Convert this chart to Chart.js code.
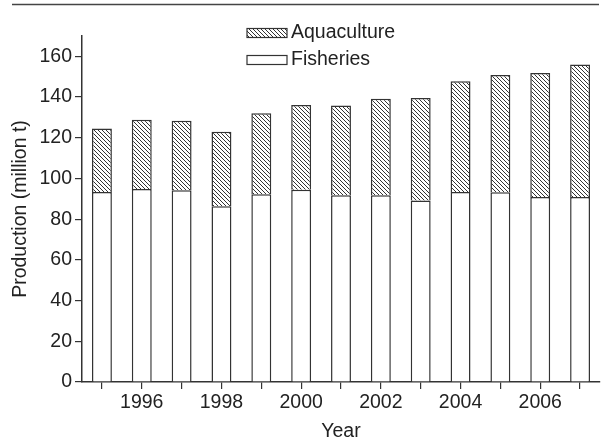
<!DOCTYPE html>
<html lang="en">
<head>
    <meta charset="UTF-8">
    <title>Production</title>
    <script src="https://cdn.jsdelivr.net/npm/chart.js"></script>
    <style>
        body { margin: 0; background: #fff; }
        #wrap { width: 605px; height: 441px; }
    </style>
</head>
<body>
    <div id="wrap"><canvas id="grafica"></canvas></div>

    <script>
        // Datos
        const years = ['1995', '1996', '1997', '1998', '1999', '2000', '2001', '2002', '2003', '2004', '2005', '2006', '2007'];
        const fisheries = [93.3, 94.8, 94.2, 86.4, 92.3, 94.5, 91.7, 91.7, 89.2, 93.3, 93.2, 90.9, 90.9];
        const aquaculture = [31.2, 34.1, 34.2, 36.6, 39.8, 41.6, 44.2, 47.5, 50.3, 54.5, 57.6, 60.9, 65.1];
        const yTickValues = [0, 20, 40, 60, 80, 100, 120, 140, 160];

        const INK = '#333';
        const FONT = { family: '"Liberation Sans", Arial, sans-serif', size: 19.5 };

        // Patrón rayado (\\\)
        function hatch() {
            const c = document.createElement('canvas');
            c.width = 4; c.height = 4;
            const g = c.getContext('2d');
            g.fillStyle = '#fff';
            g.fillRect(0, 0, 4, 4);
            g.strokeStyle = INK;
            g.lineWidth = 1;
            g.beginPath();
            g.moveTo(-1, -1); g.lineTo(5, 5);
            g.moveTo(-1, 3); g.lineTo(1, 5);
            g.moveTo(3, -1); g.lineTo(5, 1);
            g.stroke();
            return g.createPattern(c, 'repeat');
        }
        const rayado = hatch();

        // Línea superior y leyenda
        const extras = {
            id: 'extras',
            afterDraw(chart) {
                const ctx = chart.ctx;
                ctx.save();
                ctx.strokeStyle = '#444';
                ctx.lineWidth = 1.5;
                ctx.beginPath();
                ctx.moveTo(12, 4.5); ctx.lineTo(599, 4.5);
                ctx.stroke();

                const items = [chart.data.datasets[1], chart.data.datasets[0]];
                ctx.font = FONT.size + 'px ' + FONT.family;
                ctx.textBaseline = 'middle';
                items.forEach((ds, i) => {
                    const y = 28.5 + i * 27;
                    ctx.fillStyle = ds.backgroundColor;
                    ctx.fillRect(247, y, 40, 9);
                    ctx.strokeStyle = INK;
                    ctx.lineWidth = 1.2;
                    ctx.strokeRect(247, y, 40, 9);
                    ctx.fillStyle = '#222';
                    ctx.fillText(ds.label, 291, y + 4.5);
                });
                ctx.restore();
            }
        };

        new Chart(document.getElementById('grafica'), {
            type: 'bar',
            data: {
                labels: years,
                datasets: [
                    { label: 'Fisheries', data: fisheries, backgroundColor: '#fff', borderColor: INK, borderWidth: 1.5 },
                    { label: 'Aquaculture', data: aquaculture, backgroundColor: rayado, borderColor: INK, borderWidth: 1.5 }
                ]
            },
            options: {
                responsive: true,
                maintainAspectRatio: false,
                animation: false,
                layout: { padding: { left: 0, right: 5, top: 36, bottom: 0 } },
                datasets: { bar: { categoryPercentage: 1, barPercentage: 0.5 } },
                plugins: { legend: { display: false }, tooltip: { enabled: false } },
                scales: {
                    x: {
                        stacked: true,
                        afterFit: s => { s.height = 59; },
                        border: { color: INK, width: 1.5 },
                        grid: { offset: false, drawOnChartArea: false, tickLength: 7, color: INK, lineWidth: 1.2 },
                        ticks: {
                            autoSkip: false, maxRotation: 0, padding: 2, color: '#222', font: FONT,
                            callback: function (v) { const l = this.getLabelForValue(v); return Number(l) % 2 === 0 ? l : ''; }
                        },
                        title: { display: true, text: 'Year', color: '#222', font: FONT, padding: { top: 0, bottom: -2 } }
                    },
                    y: {
                        stacked: true,
                        min: 0,
                        max: 170,
                        afterFit: s => { s.width = 82; },
                        afterBuildTicks: s => { s.ticks = yTickValues.map(v => ({ value: v })); },
                        border: { color: INK, width: 1.5 },
                        grid: { drawOnChartArea: false, tickLength: 7, color: INK, lineWidth: 1.2 },
                        ticks: { padding: 3, color: '#222', font: FONT },
                        title: { display: true, text: 'Production (million t)', color: '#222', font: FONT, padding: 9 }
                    }
                }
            },
            plugins: [extras]
        });
    </script>
</body>
</html>
